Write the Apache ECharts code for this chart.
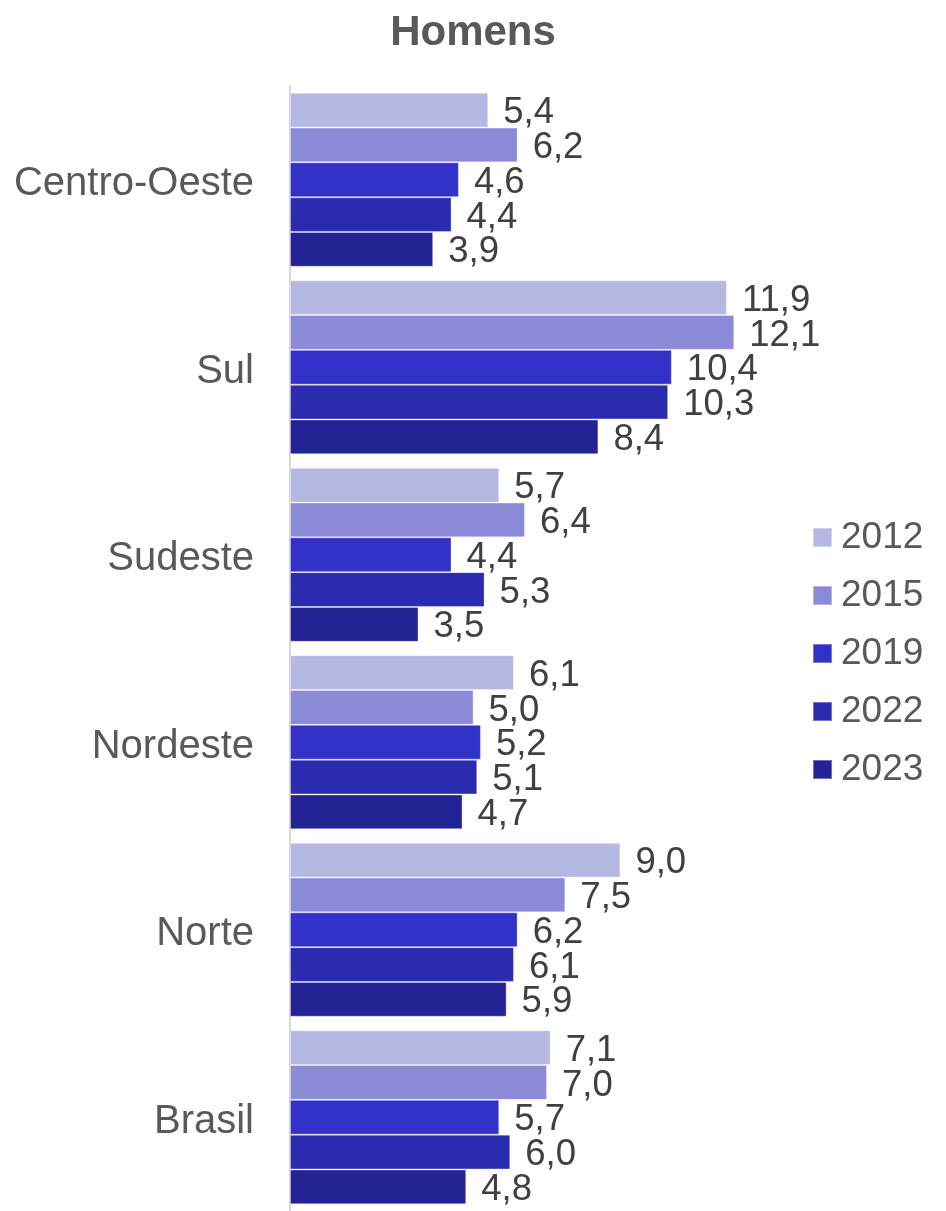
<!DOCTYPE html>
<html>
<head>
    <meta charset="UTF-8">
    <title>Homens</title>
    <script src="https://cdn.jsdelivr.net/npm/echarts@6/dist/echarts.min.js"></script>
    <style>
        html, body { margin: 0; padding: 0; background: #fff; }
        #chart { width: 946px; height: 1211px; }
    </style>
</head>
<body>
    <div id="chart"></div>
    <script>
        // regiões, de cima para baixo
        var regioes = ['Centro-Oeste', 'Sul', 'Sudeste', 'Nordeste', 'Norte', 'Brasil'];
        var anos = ['2012', '2015', '2019', '2022', '2023'];

        var v2012 = [5.4, 11.9, 5.7, 6.1, 9.0, 7.1];
        var v2015 = [6.2, 12.1, 6.4, 5.0, 7.5, 7.0];
        var v2019 = [4.6, 10.4, 4.4, 5.2, 6.2, 5.7];
        var v2022 = [4.4, 10.3, 5.3, 5.1, 6.1, 6.0];
        var v2023 = [3.9, 8.4, 3.5, 4.7, 5.9, 4.8];

        var valores = [v2012, v2015, v2019, v2022, v2023];
        var cores = ['#b6b8e4', '#8a8ad6', '#3232c8', '#2b2baf', '#232396'];

        var fonte = '"Liberation Sans", Arial, sans-serif';

        var series = anos.map(function (ano, i) {
            return {
                name: ano,
                type: 'bar',
                data: valores[i],
                barGap: '0%',
                barCategoryGap: '7.2%',
                itemStyle: {
                    color: cores[i],
                    borderColor: 'rgba(255,255,255,0.35)',
                    borderWidth: 1
                },
                label: {
                    show: true,
                    position: 'right',
                    distance: 15,
                    offset: [0, 3],
                    color: '#404040',
                    fontSize: 36.5,
                    fontFamily: fonte,
                    formatter: function (p) {
                        return p.value.toFixed(1).replace('.', ',');
                    }
                }
            };
        });

        var chart = echarts.init(document.getElementById('chart'));
        chart.setOption({
            animation: false,
            title: {
                text: 'Homens',
                left: 'center',
                top: 7,
                textStyle: { fontSize: 42, fontWeight: 'bold', color: '#595959', fontFamily: fonte }
            },
            legend: {
                data: anos,
                orient: 'vertical',
                left: 812,
                top: 519,
                padding: 0,
                icon: 'rect',
                itemWidth: 19,
                itemHeight: 19,
                itemGap: 21,
                textStyle: { fontSize: 37, lineHeight: 36, color: '#595959', fontFamily: fonte, padding: [0, 0, 0, 4] }
            },
            grid: { left: 290, top: 86, width: 514, height: 1130 },
            xAxis: {
                type: 'value',
                min: 0,
                max: 14,
                show: false,
                splitLine: { show: false }
            },
            yAxis: {
                type: 'category',
                data: regioes,
                inverse: true,
                axisLine: { show: true, lineStyle: { color: '#d9d9d9', width: 2 } },
                axisTick: { show: false },
                axisLabel: {
                    margin: 36,
                    formatter: '{r|{value}}',
                    rich: {
                        r: { fontSize: 40, color: '#595959', fontFamily: fonte, padding: [9, 0, 0, 0] }
                    }
                }
            },
            series: series
        });
    </script>
</body>
</html>
